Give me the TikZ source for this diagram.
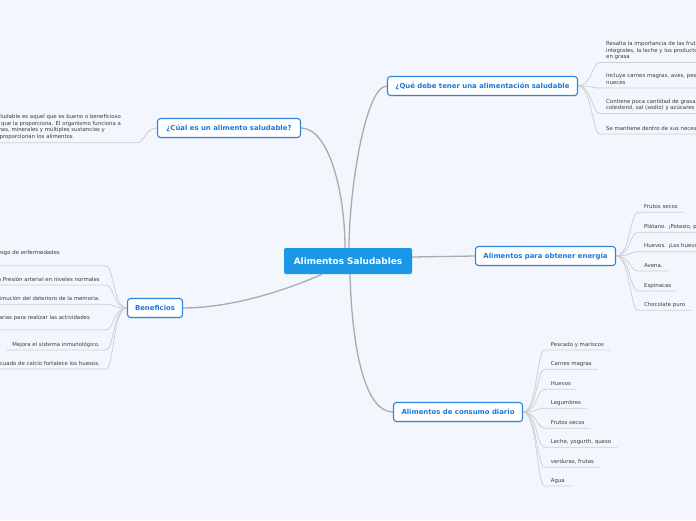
\documentclass[tikz,border=0pt]{standalone}
\usepackage{fontspec}
\setmainfont{DejaVu Sans}
\usetikzlibrary{shadows,backgrounds}
\definecolor{bgc}{HTML}{F3F6FD}
\definecolor{cblue}{HTML}{1A97E6}
\definecolor{tblue}{HTML}{1C78DC}
\definecolor{bblue}{HTML}{2A88E2}
\definecolor{maing}{HTML}{ABABAB}
\definecolor{subg}{HTML}{CFCFD4}
\definecolor{itemt}{HTML}{3C3C3C}
\begin{document}
\begin{tikzpicture}[x=1pt,y=-1pt,
  central/.style={fill=cblue, rounded corners=2pt, text=white,
    font=\fontsize{8.9}{10}\selectfont\bfseries, minimum width=128pt,
    minimum height=26pt, inner sep=0pt},
  topic/.style={fill=white, draw=bblue, line width=1.1pt, rounded corners=3pt,
    text=tblue, font=\fontsize{6.9}{8}\selectfont\bfseries, minimum height=19pt,
    inner sep=0pt, drop shadow={shadow xshift=0.2pt, shadow yshift=-0.9pt, opacity=0.18}},
  itemr/.style={anchor=south west, font=\fontsize{5.4}{6.5}\selectfont, text=itemt,
    inner xsep=6pt, inner ysep=0pt, text depth=3.7pt, align=left},
  iteml/.style={itemr, anchor=south east, align=right},
  mainc/.style={draw=maing, line width=1.3pt},
  subc/.style={draw=subg, line width=0.8pt}]
\useasboundingbox (0,0) rectangle (696,520);

% main nodes
\node[central] (cent) at (348,261) {Alimentos Saludables};
\node[topic, minimum width=143pt] (cual) at (229,128) {¿Cúal es un alimento saludable?};
\node[topic, minimum width=190pt] (que) at (482.5,86) {¿Qué debe tener una alimentación saludable};
\node[topic, minimum width=140pt] (ener) at (545.5,256) {Alimentos para obtener energía};
\node[topic, minimum width=129pt] (cons) at (458,412) {Alimentos de consumo diario};
\node[topic, minimum width=55pt] (ben) at (155,308) {Beneficios};

% ¿Cúal es...? child
\node[iteml, text depth=4.3pt] (c1) at (137,142.7) {Un alimento saludable es aquel que es bueno o beneficioso\hspace*{10pt}\mbox{}\\
para la salud de la persona que la proporciona. El organismo funciona a\hspace*{10pt}\mbox{}\\
partir de energía, proteínas, vitaminas, minerales y múltiples sustancias y\hspace*{26pt}\mbox{}\\
nutrientes que le proporcionan los alimentos\hspace*{58pt}\mbox{}};

% ¿Qué debe tener...? children
\node[itemr] (q1) at (600,62.5) {Resalta la importancia de las frutas, las verduras, los granos\\integrales, la leche y los productos lácteos descremados o bajos\\en grasa};
\node[itemr] (q2) at (600,88) {Incluye carnes magras, aves, pescado, frijoles, huevos y\\nueces};
\node[itemr] (q3) at (600,113.5) {Contiene poca cantidad de grasas saturadas, grasas trans,\\colesterol, sal (sodio) y azúcares agregados};
\node[itemr] (q4) at (600,134) {Se mantiene dentro de sus necesidades calóricas diarias};

% energía children
\node[itemr] (e1) at (638,212.3) {Frutos secos};
\node[itemr] (e2) at (638,232.3) {Plátano. ¡Potasio, pura energía!};
\node[itemr] (e3) at (638,251.7) {Huevos. ¡Los huevos dan energía!};
\node[itemr] (e4) at (638,271) {Avena.};
\node[itemr] (e5) at (638,291) {Espinacas};
\node[itemr] (e6) at (638,310.3) {Chocolate puro};

% consumo diario children
\node[itemr] (d1) at (544.7,350) {Pescado y mariscos};
\node[itemr] (d2) at (544.7,369.3) {Carnes magras};
\node[itemr] (d3) at (544.7,389.3) {Huevos};
\node[itemr] (d4) at (544.7,408.3) {Legumbres};
\node[itemr] (d5) at (544.7,428.3) {Frutos secos};
\node[itemr] (d6) at (544.7,447.3) {Leche, yogurth, queso};
\node[itemr] (d7) at (544.7,467.3) {verduras, frutas};
\node[itemr] (d8) at (544.7,486) {Agua};

% beneficios children
\node[iteml, text depth=11.3pt] (b1) at (106,265.7) {Reduce el riesgo de enfermedades\hspace*{40pt}\mbox{}};
\node[iteml] (b2) at (106,285) {Mantiene la Presión arterial en niveles normales};
\node[iteml] (b3) at (106,304.3) {Disminución del deterioro de la memoria.};
\node[iteml, text depth=10.3pt] (b4) at (106,330) {Aporta las energías necesarias para realizar las actividades\hspace*{10pt}\mbox{}};
\node[iteml] (b5) at (106,350) {Mejora el sistema inmunológico.};
\node[iteml] (b6) at (106,369) {Un consumo adecuado de calcio fortalece los huesos.};

\begin{pgfonlayer}{background}
\fill[bgc] (0,0) rectangle (696,520);
% main connectors
\draw[mainc] (cual.east) .. controls +(28,0) and +(0,-55) .. ([xshift=-3pt]cent.north);
\draw[mainc] (que.west) .. controls +(-22,0) and +(0,-55) .. ([xshift=1pt]cent.north);
\draw[mainc] ([yshift=4pt]cent.east) -- (ener.west);
\draw[mainc] ([xshift=-26pt]cent.south) .. controls +(-40,18) and +(45,0) .. (ben.east);
\draw[mainc] ([xshift=2pt]cent.south) .. controls +(2,75) and +(-28,0) .. (cons.west);
% sub connectors
\draw[subc] (cual.west) .. controls +(-12,0) and +(8,0) .. (c1.south east) -- (c1.south west);
\foreach \i in {1,...,4}
  \draw[subc] (que.east) .. controls +(14,0) and +(-8,0) .. (q\i.south west) -- (q\i.south east);
\foreach \i in {1,...,6}
  \draw[subc] (ener.east) .. controls +(14,0) and +(-8,0) .. (e\i.south west) -- (e\i.south east);
\foreach \i in {1,...,8}
  \draw[subc] (cons.east) .. controls +(14,0) and +(-8,0) .. (d\i.south west) -- (d\i.south east);
\foreach \i in {1,...,6}
  \draw[subc] (ben.west) .. controls +(-14,0) and +(8,0) .. (b\i.south east) -- (b\i.south west);
\end{pgfonlayer}
\end{tikzpicture}
\end{document}
